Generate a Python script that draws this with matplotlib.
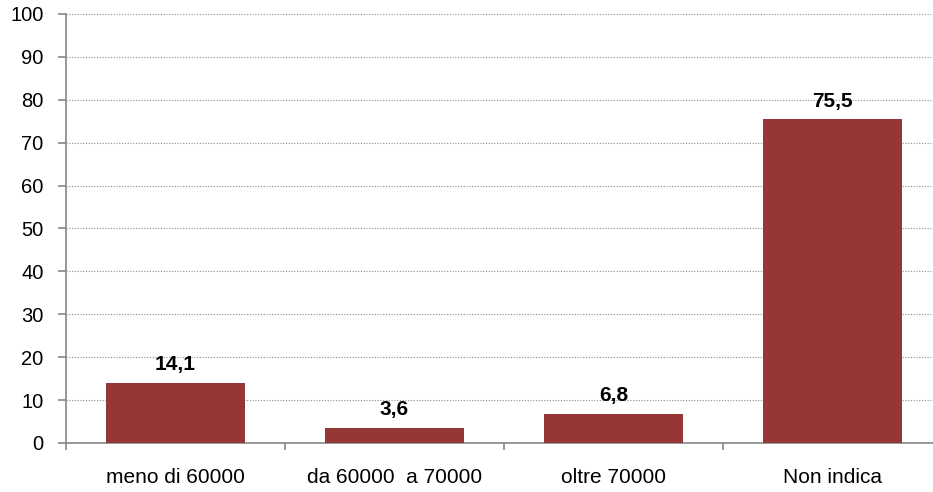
import matplotlib
matplotlib.use('Agg')
from matplotlib import pyplot as plt

categorie = ['meno di 60000', 'da 60000  a 70000', 'oltre 70000', 'Non indica']
valori = [14.1, 3.6, 6.8, 75.5]
etichette = ['14,1', '3,6', '6,8', '75,5']

plt.rcParams['font.family'] = ['Liberation Sans', 'DejaVu Sans']

fig = plt.figure(figsize=(9.33, 4.92), dpi=100)
# the plot area runs a little past the right edge, as in the original
ax = fig.add_axes([0.0707, 0.0996, 0.939, 0.872])

x = list(range(len(categorie)))
ax.bar(x, valori, width=0.635, color='#953735', zorder=3)

for xi, v, t in zip(x, valori, etichette):
    ax.annotate(t, (xi, v), xytext=(0, 6), textcoords='offset points',
                ha='center', va='bottom', fontsize=15, fontweight='bold')

ax.set_ylim(0, 100)
ax.set_xlim(-0.5, 3.5)
ax.set_yticks(range(0, 101, 10))
ax.yaxis.grid(True, linestyle=(0, (1, 1.5)), color='#8c8c8c', linewidth=0.8, zorder=0)

ax.set_xticks([-0.5, 0.5, 1.5, 2.5, 3.5])
ax.set_xticklabels([])
ax.set_xticks(x, minor=True)
ax.set_xticklabels(categorie, minor=True, fontsize=15)
ax.tick_params(axis='x', which='minor', length=0, pad=18)
ax.tick_params(axis='x', which='major', length=5, color='#868686', width=1.2)
ax.tick_params(axis='y', length=6, pad=10, color='#868686', width=1.2, labelsize=14.5)

for s in ['top', 'right']:
    ax.spines[s].set_visible(False)
for s in ['left', 'bottom']:
    ax.spines[s].set_color('#868686')
    ax.spines[s].set_linewidth(1.2)

fig.savefig('out.png', dpi=100)
